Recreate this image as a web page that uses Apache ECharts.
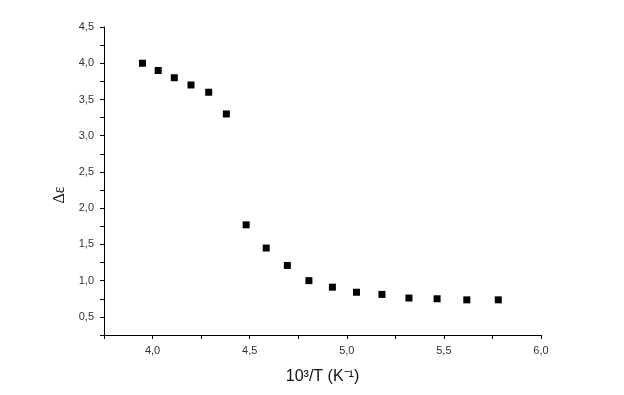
<!DOCTYPE html>
<html>
<head>
<meta charset="utf-8">
<script src="https://cdn.jsdelivr.net/npm/echarts@6/dist/echarts.min.js"></script>
<style>html,body{margin:0;padding:0;background:#fff}#c{width:624px;height:395px}</style>
</head>
<body>
<div id="c"></div>
<script>
var xValues = [3.948, 4.029, 4.112, 4.198, 4.289, 4.380, 4.482, 4.585, 4.694, 4.805, 4.926, 5.050, 5.181, 5.320, 5.465, 5.618, 5.780];
var yValues = [4.00, 3.90, 3.80, 3.70, 3.60, 3.30, 1.77, 1.45, 1.21, 1.00, 0.91, 0.84, 0.81, 0.76, 0.75, 0.735, 0.735];
var xName = '10\u00B3/T (K\u207B\u00B9)';
var yName = '\u0394\u03B5';

var data = xValues.map(function (x, i) { return [x, yValues[i]]; });
var fmt = function (v) { return v.toFixed(1).replace('.', ','); };
var chart = echarts.init(document.getElementById('c'), null, {renderer: 'canvas'});
chart.setOption({
  backgroundColor: '#fff',
  animation: false,
  grid: {left: 104, right: 83, top: 27, bottom: 60},
  xAxis: {
    type: 'value', min: 3.75, max: 6.0, interval: 0.25,
    name: xName, nameLocation: 'middle', nameGap: 34,
    nameTextStyle: {fontFamily: 'Liberation Sans', fontSize: 16, color: '#111'},
    axisLine: {show: true, lineStyle: {color: '#000', width: 1}},
    axisTick: {show: true, length: 4, lineStyle: {color: '#000'}, interval: 0},
    axisLabel: {
      margin: 10, fontFamily: 'Liberation Sans', fontSize: 11, color: '#333',
      formatter: function (v) { return Math.abs(v * 2 - Math.round(v * 2)) < 1e-6 && v > 3.9 ? fmt(v) : ''; }
    },
    splitLine: {show: false}
  },
  yAxis: {
    type: 'value', min: 0.25, max: 4.5, interval: 0.25,
    name: yName, nameLocation: 'middle', nameGap: 36, nameRotate: 90,
    nameTextStyle: {fontFamily: 'Liberation Serif', fontSize: 16, color: '#111', padding: [0, 28, 0, 0]},
    axisLine: {show: true, lineStyle: {color: '#000', width: 1}},
    axisTick: {show: true, length: 4, lineStyle: {color: '#000'}},
    axisLabel: {
      margin: 10, fontFamily: 'Liberation Sans', fontSize: 11, color: '#333',
      formatter: function (v) { return Math.abs(v * 2 - Math.round(v * 2)) < 1e-6 ? fmt(v) : ''; }
    },
    splitLine: {show: false}
  },
  series: [{
    type: 'scatter', symbol: 'rect', symbolSize: 7,
    itemStyle: {color: '#000', opacity: 1},
    data: data
  }]
});
</script>
</body>
</html>
